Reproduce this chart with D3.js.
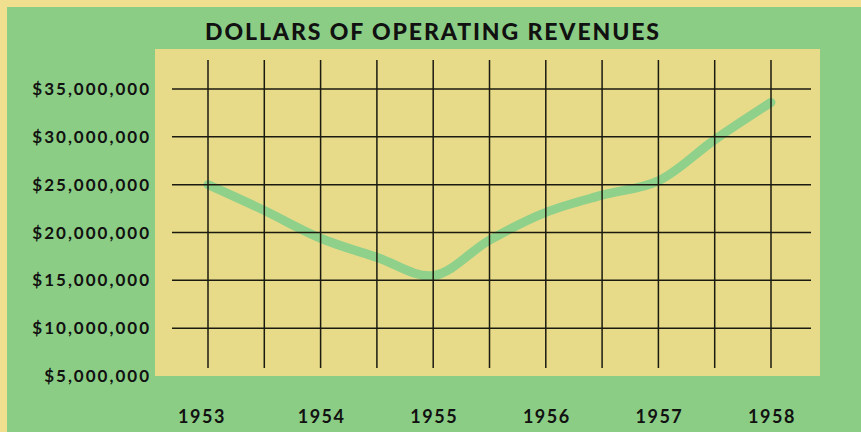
<!DOCTYPE html>
<html lang="en">
<head>
  <meta charset="UTF-8">
  <title>Dollars of operating revenues</title>
  <script src="https://cdn.jsdelivr.net/npm/d3@7"></script>
  <style>
    body { margin: 0; background: #efdf8e; }
    svg { display: block; }
    text { font-family: Lato, "Open Sans", sans-serif; fill: #111; }
  </style>
</head>
<body>
<svg></svg>
<script>
  // values (millions of dollars at half-year steps)
  const years = [1953, 1954, 1955, 1956, 1957, 1958]
  const dates = [1953, 1953.5, 1954, 1954.5, 1955, 1955.5, 1956, 1956.5, 1957, 1957.5, 1958]
  const revenue = [25.0, 22.3, 19.4, 17.4, 15.5, 19.2, 22.1, 23.9, 25.4, 29.7, 33.6]
  const yTicks = [5, 10, 15, 20, 25, 30, 35]
  const title = 'DOLLARS OF OPERATING REVENUES'

  const width = 861, height = 432

  const x = d3.scaleLinear()
      .domain([1953, 1958])
      .range([208, 771])

  const y = d3.scaleLinear()
      .domain([5, 35])
      .range([376, 89])

  const svg = d3.select('svg')
      .attr('width', width)
      .attr('height', height)
      .attr('viewBox', [0, 0, width, height])

  // green panel and yellow plot
  svg.append('rect')
      .attr('x', 7).attr('y', 7)
      .attr('width', width - 7).attr('height', height - 7)
      .attr('fill', '#8ccd85')

  svg.append('rect')
      .attr('x', 155).attr('y', 49)
      .attr('width', 665).attr('height', 327)
      .attr('fill', '#e7db89')

  svg.append('text')
      .attr('x', 433).attr('y', 40)
      .attr('text-anchor', 'middle')
      .style('font-size', '23px')
      .style('font-weight', 900)
      .style('letter-spacing', '1.9px')
      .text(title)

  // the data line sits under the grid
  const line = d3.line()
      .x((d, i) => x(dates[i]))
      .y(d => y(d))
      .curve(d3.curveCatmullRom.alpha(0.5))

  svg.append('path')
      .datum(revenue)
      .attr('d', line)
      .attr('fill', 'none')
      .attr('stroke', '#8fd08b')
      .attr('stroke-width', 9)
      .attr('stroke-linecap', 'round')
      .attr('stroke-linejoin', 'round')

  // grid
  svg.append('g')
      .attr('stroke', '#1a1a10')
      .attr('stroke-width', 1.5)
      .selectAll('line')
      .data(dates)
      .join('line')
      .attr('x1', d => x(d)).attr('x2', d => x(d))
      .attr('y1', 60).attr('y2', 368)

  svg.append('g')
      .attr('stroke', '#1a1a10')
      .attr('stroke-width', 1.5)
      .selectAll('line')
      .data(yTicks.filter(d => d > 5))
      .join('line')
      .attr('x1', 172).attr('x2', 811)
      .attr('y1', d => y(d)).attr('y2', d => y(d))

  // axis labels
  svg.append('g')
      .selectAll('text')
      .data(yTicks)
      .join('text')
      .attr('x', 151)
      .attr('y', d => y(d) + 6)
      .attr('text-anchor', 'end')
      .style('font-size', '17px')
      .style('font-weight', 'bold')
      .style('letter-spacing', '2px')
      .text(d => '$' + d3.format(',')(d * 1e6))

  svg.append('g')
      .selectAll('text')
      .data(years)
      .join('text')
      .attr('x', d => x(d) + (d === 1953 ? -6 : 1))
      .attr('y', 423)
      .attr('text-anchor', 'middle')
      .style('font-size', '18px')
      .style('font-weight', 'bold')
      .style('letter-spacing', '1.5px')
      .text(d => d)
</script>
</body>
</html>
